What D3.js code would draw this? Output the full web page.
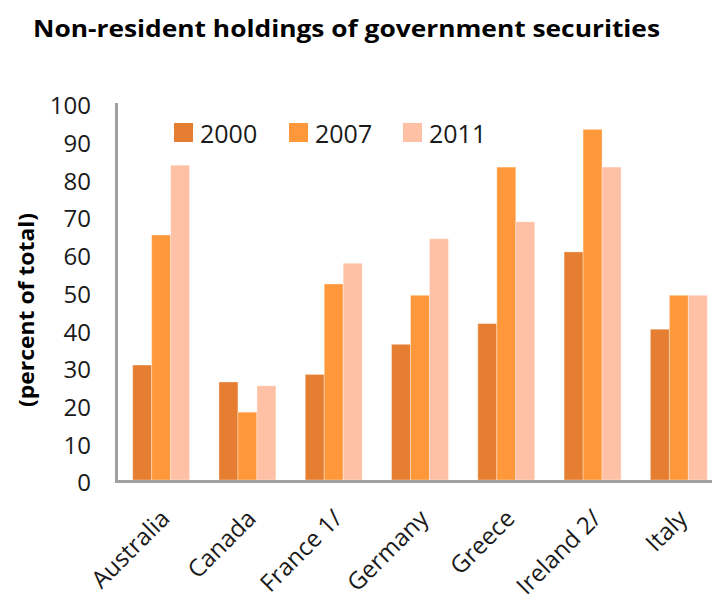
<!DOCTYPE html>
<html>
<head>
<meta charset="utf-8">
<script src="https://cdn.jsdelivr.net/npm/d3@7"></script>
<style>
  html, body { margin: 0; padding: 0; background: #fff; }
  svg { display: block; }
  text { font-family: "Open Sans", "Noto Sans", sans-serif; fill: #1a1a1a; }
</style>
</head>
<body>
<svg id="chart" width="712" height="596"></svg>
<script>
// ---- data ----
const categories = ["Australia", "Canada", "France 1/", "Germany", "Greece", "Ireland 2/", "Italy"];
const seriesNames = ["2000", "2007", "2011"];
const values2000 = [30.5, 26, 28, 36, 41.5, 60.5, 40];
const values2007 = [65, 18, 52, 49, 83, 93, 49];
const values2011 = [83.5, 25, 57.5, 64, 68.5, 83, 49];
const yTicks = [0, 10, 20, 30, 40, 50, 60, 70, 80, 90, 100];
const title = "Non-resident holdings of government securities";
const yTitle = "(percent of total)";
const colors = ["#E57E31", "#FF983A", "#FFC1A5"];

const seriesValues = [values2000, values2007, values2011];

const svg = d3.select("#chart");

// scales
const x = d3.scaleBand().domain(categories).range([118, 722]).paddingInner(0.34).paddingOuter(0.17);
const xs = d3.scaleBand().domain(seriesNames).range([0, x.bandwidth()]);
const y = d3.scaleLinear().domain([0, 100]).range([480, 103]);

// title
svg.append("text")
  .attr("x", 33).attr("y", 37)
  .attr("font-size", 24).attr("font-weight", "bold")
  .attr("textLength", 627).attr("lengthAdjust", "spacingAndGlyphs")
  .style("fill", "#000")
  .text(title);

// y-axis title
svg.append("text")
  .attr("transform", "translate(34,310) rotate(-90)")
  .attr("text-anchor", "middle")
  .attr("font-size", 22).attr("font-weight", "bold")
  .attr("textLength", 194).attr("lengthAdjust", "spacingAndGlyphs")
  .style("fill", "#000")
  .text(yTitle);

// bars
const groups = svg.append("g").selectAll("g")
  .data(categories)
  .join("g")
  .attr("transform", d => `translate(${x(d)},0)`);

groups.selectAll("rect")
  .data((d, i) => seriesNames.map((s, j) => ({ s, j, v: seriesValues[j][i] })))
  .join("rect")
  .attr("x", d => xs(d.s))
  .attr("width", xs.bandwidth())
  .attr("y", d => y(d.v))
  .attr("height", d => y(0) - y(d.v))
  .attr("fill", d => colors[d.j])
  .attr("stroke", "#ffffff")
  .attr("stroke-opacity", 0.35)
  .attr("stroke-width", 1);

// y axis
const yAxis = d3.axisLeft(y).tickValues(yTicks).tickSize(0).tickPadding(0);
const yg = svg.append("g").attr("transform", "translate(91,0)").call(yAxis);
yg.select(".domain").remove();
yg.selectAll("text")
  .attr("font-size", 24)
  .attr("font-family", "Open Sans, Noto Sans, sans-serif")
  .attr("dy", "0.45em")
  .style("fill", "#1a1a1a");

// axis lines
svg.append("line")
  .attr("x1", 116.5).attr("x2", 116.5)
  .attr("y1", y(100)).attr("y2", 483)
  .attr("stroke", "#A0A0A0").attr("stroke-width", 3);
svg.append("line")
  .attr("x1", 115).attr("x2", 712)
  .attr("y1", 481.5).attr("y2", 481.5)
  .attr("stroke", "#A0A0A0").attr("stroke-width", 3);

// x axis labels
const xAxis = d3.axisBottom(x).tickSize(0).tickPadding(0);
const xg = svg.append("g").call(xAxis);
xg.select(".domain").remove();
xg.selectAll(".tick").attr("transform", d => `translate(${x(d) + x.bandwidth() / 2 + 10},520)`);
xg.selectAll("text")
  .attr("font-size", 24)
  .attr("font-family", "Open Sans, Noto Sans, sans-serif")
  .attr("y", 0).attr("dy", 0)
  .attr("text-anchor", "end")
  .attr("transform", "rotate(-45)")
  .style("fill", "#1a1a1a");

// legend
const legendX = [174, 289, 403];
const lg = svg.append("g").selectAll("g")
  .data(seriesNames)
  .join("g")
  .attr("transform", (d, i) => `translate(${legendX[i]},123)`);
lg.append("rect")
  .attr("width", 19).attr("height", 19)
  .attr("fill", (d, i) => colors[i]);
lg.append("text")
  .attr("x", 26).attr("y", 19.5)
  .attr("font-size", 25)
  .text(d => d);
</script>
</body>
</html>
